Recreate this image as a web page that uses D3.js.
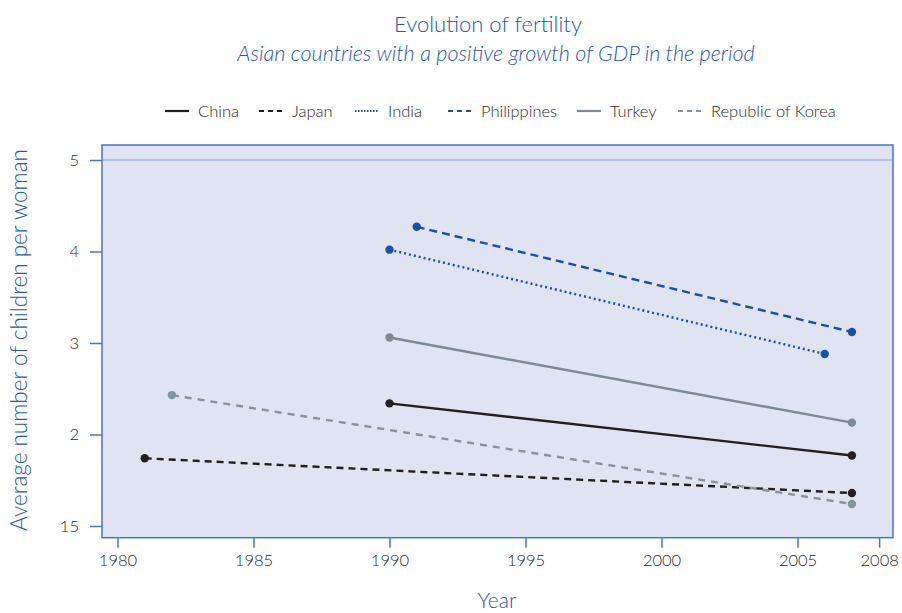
<!DOCTYPE html>
<html><head><meta charset="utf-8">
<script src="https://cdn.jsdelivr.net/npm/d3@7"></script>
<style>
body{margin:0;background:#fff;}
text{font-family:Lato,"Open Sans",sans-serif;}
</style></head>
<body><svg id="c" width="902" height="613"></svg>
<script>
const countries = ["China","Japan","India","Philippines","Turkey","Republic of Korea"];
const startYears = [1990,1981,1990,1991,1990,1982];
const endYears   = [2007,2007,2006,2007,2007,2007];
const startValues = [2.34,1.74,4.02,4.27,3.06,2.43];
const endValues   = [1.77,1.36,2.88,3.12,2.13,1.24];
const xTicks = [1980,1985,1990,1995,2000,2005,2008];
const yTicks = [1,2,3,4,5];
const yTickLabels = ["15","2","3","4","5"];

const colors = ["#231f20","#231f20","#1b4fa3","#1b4fa3","#7d8a91","#87949b"];
const dashes = [null,"7,5","2,3","8,5",null,"7,6"];

const svg = d3.select("#c");
const L=102,R=893,T=145,B=537.7;
const x = d3.scaleLinear().domain([1979.43,2008.51]).range([L,R]);
const y = d3.scaleLinear().domain([0.872,5.164]).range([B,T]);
const blue="#2858a6";

svg.append("text").attr("x",488).attr("y",32).attr("text-anchor","middle")
  .attr("font-size",22).attr("font-weight",300).attr("fill",blue).text("Evolution of fertility");
svg.append("text").attr("x",496).attr("y",61).attr("text-anchor","middle")
  .attr("font-size",21.6).attr("font-weight",300).attr("font-style","italic").attr("fill",blue)
  .text("Asian countries with a positive growth of GDP in the period");

// plot background
svg.append("rect").attr("x",L).attr("y",T).attr("width",R-L).attr("height",B-T)
  .attr("fill","#e0e3f1").attr("stroke","#4b76ba").attr("stroke-width",1.5);
// grid line at 5
svg.append("line").attr("x1",L+1).attr("x2",R-1).attr("y1",y(5)).attr("y2",y(5))
  .attr("stroke","#aab6dc").attr("stroke-width",1.5);

// axes
const ya = svg.append("g").attr("transform",`translate(${L},0)`)
  .call(d3.axisLeft(y).tickValues(yTicks).tickSize(12).tickPadding(11)
    .tickFormat((d,i)=>yTickLabels[i]));
const xa = svg.append("g").attr("transform",`translate(0,${B})`)
  .call(d3.axisBottom(x).tickValues(xTicks).tickSize(10).tickPadding(7).tickFormat(d3.format("d")));
[ya,xa].forEach(a=>{
  a.select(".domain").remove();
  a.selectAll(".tick line").attr("stroke","#4b76ba").attr("stroke-width",1.5);
  a.selectAll(".tick text").attr("fill","#2a2a2a").attr("font-size",16.5).attr("font-weight",300)
   .attr("font-family","Lato,'Open Sans',sans-serif");
});

svg.append("text").attr("transform","translate(27,340) rotate(-90)").attr("text-anchor","middle")
  .attr("font-size",22.5).attr("font-weight",300).attr("fill",blue).text("Average number of children per woman");
svg.append("text").attr("x",497).attr("y",608).attr("text-anchor","middle")
  .attr("font-size",21).attr("font-weight",300).attr("fill",blue).text("Year");

// series
countries.forEach((c,i)=>{
  const pts=[[startYears[i],startValues[i]],[endYears[i],endValues[i]]];
  const g=svg.append("g");
  g.append("path").attr("d",d3.line().x(d=>x(d[0])).y(d=>y(d[1]))(pts))
    .attr("fill","none").attr("stroke",colors[i]).attr("stroke-width",2.4)
    .attr("stroke-dasharray",dashes[i]);
  g.selectAll("circle").data(pts).join("circle")
    .attr("cx",d=>x(d[0])).attr("cy",d=>y(d[1])).attr("r",4.2).attr("fill",colors[i]);
});

// legend
const legX=[165,259,355,448,577,678];
const lg=svg.append("g");
countries.forEach((c,i)=>{
  lg.append("line").attr("x1",legX[i]).attr("x2",legX[i]+24).attr("y1",111).attr("y2",111)
    .attr("stroke",colors[i]).attr("stroke-width",2.2).attr("stroke-dasharray",dashes[i]?(i==2?"1.5,1.5":"5,4"):null);
  lg.append("text").attr("x",legX[i]+33).attr("y",116.5).attr("font-size",16.5).attr("font-weight",300)
    .attr("fill","#2a2a2a").text(c);
});
</script></body></html>
